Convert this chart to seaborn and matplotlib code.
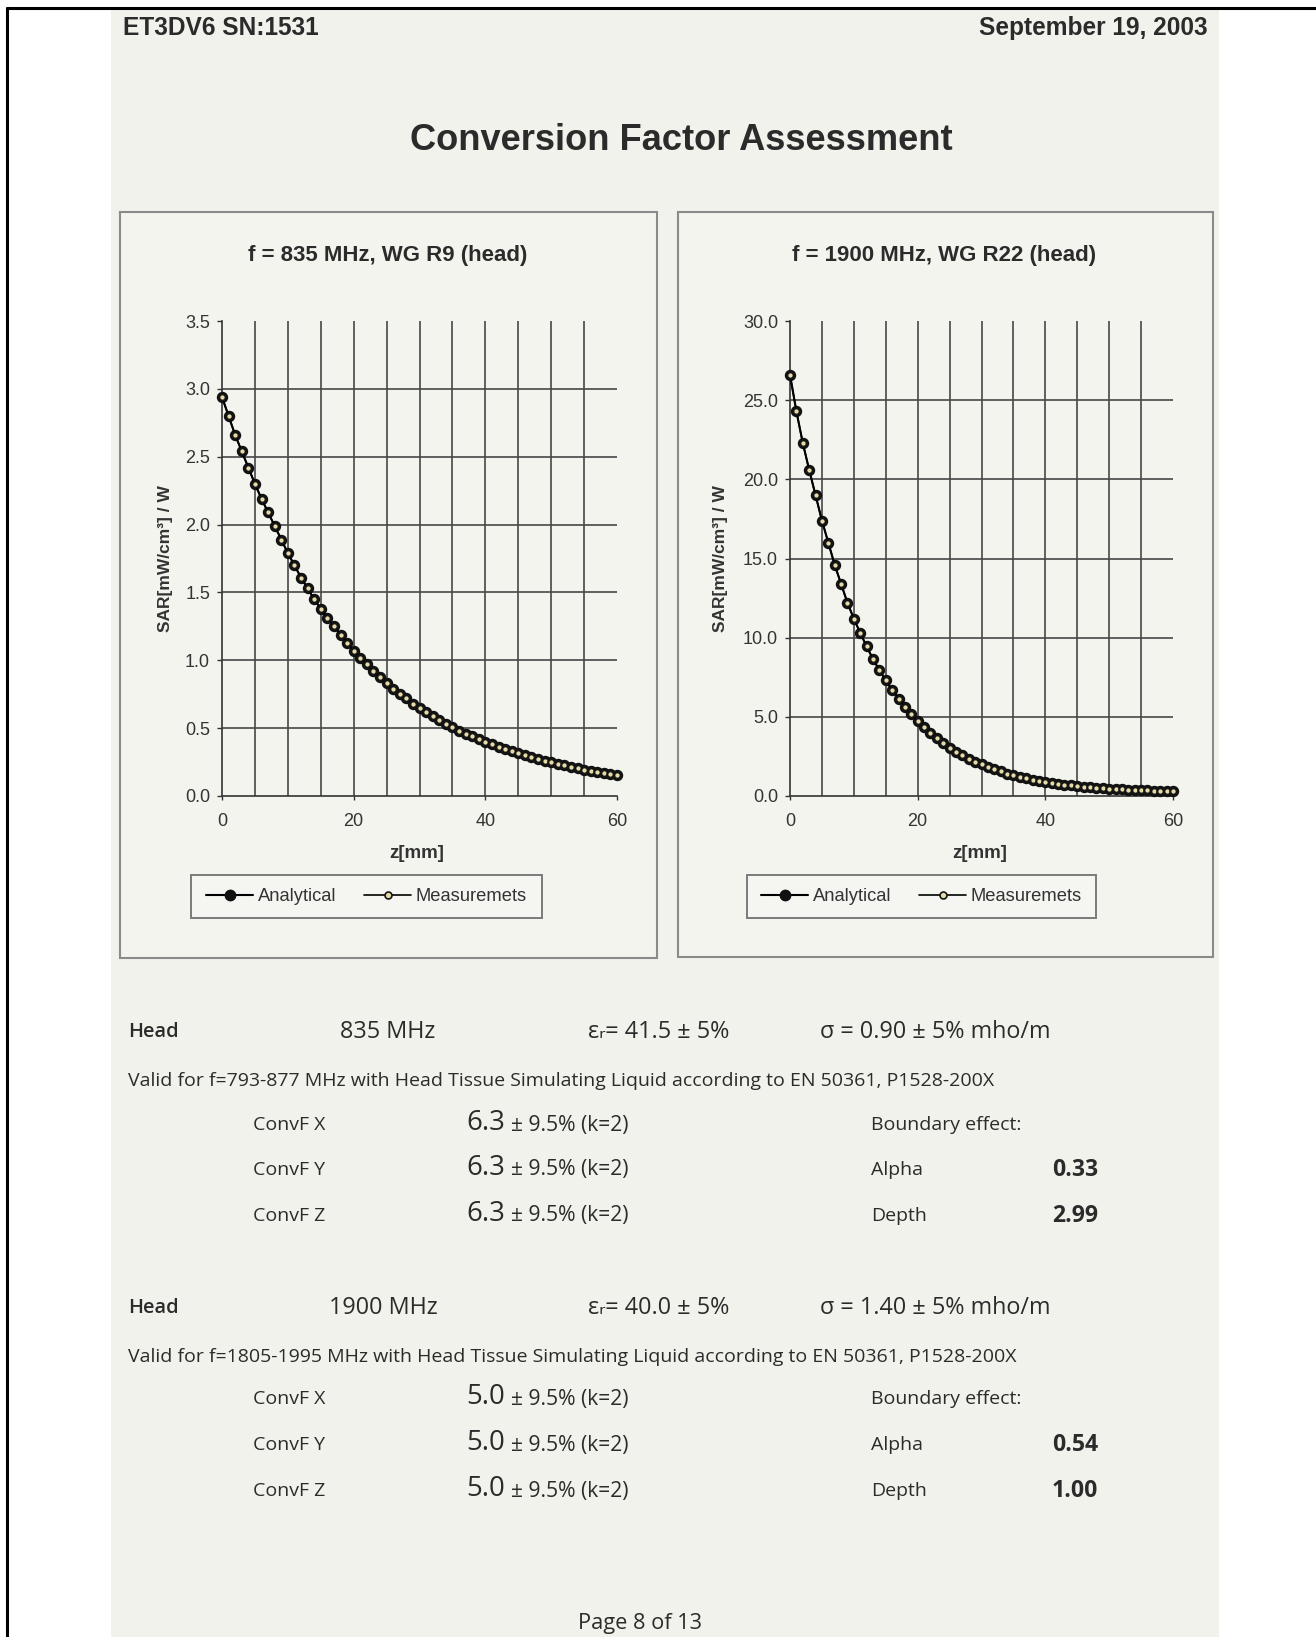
import numpy as np
import pandas as pd
import matplotlib
matplotlib.use("Agg")
import matplotlib.pyplot as plt
import seaborn as sns
from matplotlib.patches import Rectangle
from matplotlib.lines import Line2D
from matplotlib.ticker import FixedLocator, FormatStrFormatter
from matplotlib import font_manager

# ---------------- data ----------------
z_mm = [0, 1, 2, 3, 4, 5, 6, 7, 8, 9,
        10, 11, 12, 13, 14, 15, 16, 17, 18, 19,
        20, 21, 22, 23, 24, 25, 26, 27, 28, 29,
        30, 31, 32, 33, 34, 35, 36, 37, 38, 39,
        40, 41, 42, 43, 44, 45, 46, 47, 48, 49,
        50, 51, 52, 53, 54, 55, 56, 57, 58, 59,
        60]

sar_835_analytical = [2.94, 2.80, 2.66, 2.54, 2.42, 2.30, 2.19, 2.09, 1.99, 1.89,
                      1.79, 1.70, 1.61, 1.53, 1.45, 1.38, 1.31, 1.25, 1.19, 1.13,
                      1.07, 1.02, 0.97, 0.92, 0.88, 0.83, 0.79, 0.75, 0.72, 0.68,
                      0.65, 0.62, 0.59, 0.56, 0.53, 0.51, 0.48, 0.46, 0.44, 0.42,
                      0.40, 0.38, 0.36, 0.345, 0.33, 0.315, 0.30, 0.285, 0.27, 0.26,
                      0.25, 0.235, 0.225, 0.215, 0.205, 0.195, 0.185, 0.177, 0.169, 0.161,
                      0.153]
# measured points lie on top of the analytical curve
sar_835_measured = [2.94, 2.80, 2.66, 2.54, 2.42, 2.30, 2.19, 2.09, 1.99, 1.89,
                    1.79, 1.70, 1.61, 1.53, 1.45, 1.38, 1.31, 1.25, 1.19, 1.13,
                    1.07, 1.02, 0.97, 0.92, 0.88, 0.83, 0.79, 0.75, 0.72, 0.68,
                    0.65, 0.62, 0.59, 0.56, 0.53, 0.51, 0.48, 0.46, 0.44, 0.42,
                    0.40, 0.38, 0.36, 0.345, 0.33, 0.315, 0.30, 0.285, 0.27, 0.26,
                    0.25, 0.235, 0.225, 0.215, 0.205, 0.195, 0.185, 0.177, 0.169, 0.161,
                    0.153]

sar_1900_analytical = [26.6, 24.3, 22.3, 20.6, 19.0, 17.4, 16.0, 14.6, 13.4, 12.2,
                       11.2, 10.3, 9.45, 8.65, 7.95, 7.30, 6.70, 6.15, 5.65, 5.15,
                       4.72, 4.33, 3.97, 3.64, 3.33, 3.05, 2.80, 2.57, 2.36, 2.17,
                       1.99, 1.83, 1.68, 1.55, 1.42, 1.31, 1.21, 1.12, 1.03, 0.96,
                       0.89, 0.83, 0.77, 0.72, 0.67, 0.63, 0.59, 0.56, 0.53, 0.50,
                       0.47, 0.45, 0.43, 0.41, 0.39, 0.37, 0.35, 0.34, 0.32, 0.31,
                       0.30]
sar_1900_measured = [26.6, 24.3, 22.3, 20.6, 19.0, 17.4, 16.0, 14.6, 13.4, 12.2,
                     11.2, 10.3, 9.45, 8.65, 7.95, 7.30, 6.70, 6.15, 5.65, 5.15,
                     4.72, 4.33, 3.97, 3.64, 3.33, 3.05, 2.80, 2.57, 2.36, 2.17,
                     1.99, 1.83, 1.68, 1.55, 1.42, 1.31, 1.21, 1.12, 1.03, 0.96,
                     0.89, 0.83, 0.77, 0.72, 0.67, 0.63, 0.59, 0.56, 0.53, 0.50,
                     0.47, 0.45, 0.43, 0.41, 0.39, 0.37, 0.35, 0.34, 0.32, 0.31,
                     0.30]

y_ticks_835 = [0.0, 0.5, 1.0, 1.5, 2.0, 2.5, 3.0, 3.5]
y_ticks_1900 = [0.0, 5.0, 10.0, 15.0, 20.0, 25.0, 30.0]
x_ticks = [0, 20, 40, 60]

panel_titles = ["f = 835 MHz, WG R9 (head)", "f = 1900 MHz, WG R22 (head)"]
series_names = ["Analytical", "Measuremets"]

header_left = "ET3DV6 SN:1531"
header_right = "September 19, 2003"
page_title = "Conversion Factor Assessment"
footer = "Page 8 of 13"

blocks = [
    dict(tissue="Head", freq="835 MHz", eps="εᵣ= 41.5 ± 5%", sigma="σ = 0.90 ± 5% mho/m",
         valid="Valid for f=793-877 MHz with Head Tissue Simulating Liquid according to EN 50361, P1528-200X",
         convf=["6.3", "6.3", "6.3"], alpha="0.33", depth="2.99"),
    dict(tissue="Head", freq="1900 MHz", eps="εᵣ= 40.0 ± 5%", sigma="σ = 1.40 ± 5% mho/m",
         valid="Valid for f=1805-1995 MHz with Head Tissue Simulating Liquid according to EN 50361, P1528-200X",
         convf=["5.0", "5.0", "5.0"], alpha="0.54", depth="1.00"),
]
convf_labels = ["ConvF X", "ConvF Y", "ConvF Z"]
uncert = "± 9.5% (k=2)"

# ---------------- style ----------------
W, H = 1316, 1637
sns.set_theme(style="white")
names = {f.name for f in font_manager.fontManager.ttflist}
SANS = "Liberation Sans" if "Liberation Sans" in names else "DejaVu Sans"
BODY = "Open Sans" if "Open Sans" in names else SANS
plt.rcParams["font.family"] = [SANS, "DejaVu Sans"]

PAPER = "#f2f2ec"
TXT = "#2b2b2b"
GRID = "#474747"
AXTXT = "#333333"

fig = plt.figure(figsize=(W / 100, H / 100), dpi=100)
fig.patch.set_facecolor("white")
renderer = fig.canvas.get_renderer()


def fx(px):
    return px / W


def fy(py):
    return 1 - py / H


def fit_size(s, target_px, family, weight="normal", base=12):
    t = fig.text(0, 0, s, fontsize=base, family=family, fontweight=weight)
    w = t.get_window_extent(renderer).width
    t.remove()
    return base * target_px / w


def put(x, y, s, size, family, weight="normal", ha="left", color=TXT):
    return fig.text(fx(x), fy(y), s, fontsize=size, family=family, fontweight=weight,
                    ha=ha, va="center", color=color, zorder=6)


# page background and scan frame
fig.add_artist(Rectangle((fx(111), 0), fx(1219) - fx(111), fy(9), transform=fig.transFigure,
                         facecolor=PAPER, edgecolor="none", zorder=-10))
fig.add_artist(Line2D([fx(7), fx(7)], [fy(8), 0], transform=fig.transFigure, color="black", lw=2.2, zorder=8))
fig.add_artist(Line2D([fx(7), 1], [fy(8), fy(8)], transform=fig.transFigure, color="black", lw=2.2, zorder=8))

# header / title
HB = [SANS, "DejaVu Sans"]
s_head = fit_size(header_left, 196, HB, "bold")
put(123, 28, header_left, s_head, HB, "bold")
put(1208, 28, header_right, s_head, HB, "bold", ha="right")
put(681, 140, page_title, fit_size(page_title, 540, HB, "bold"), HB, "bold", ha="center")

# ---------------- charts ----------------
panels = [
    dict(box=(120, 212, 657, 958), ax=(222, 617), title_x=388, leg=(191, 875, 542, 918),
         ana=sar_835_analytical, mea=sar_835_measured, yt=y_ticks_835, ylab_x=-0.125),
    dict(box=(678, 212, 1213, 957), ax=(790, 1173), title_x=944, leg=(747, 875, 1096, 918),
         ana=sar_1900_analytical, mea=sar_1900_measured, yt=y_ticks_1900, ylab_x=-0.161),
]
AX_TOP, AX_BOT = 321, 796
s_ptitle = fit_size(panel_titles[0], 279, HB, "bold")

MEA_FACE = "#e6dba8"
for i, p in enumerate(panels):
    x0, y0, x1, y1 = p["box"]
    fig.add_artist(Rectangle((fx(x0), fy(y1)), fx(x1) - fx(x0), fy(y0) - fy(y1), transform=fig.transFigure,
                             facecolor="#f4f4ef", edgecolor="#8a8a8a", lw=1.5, zorder=-5))
    put(p["title_x"], 255, panel_titles[i], s_ptitle, HB, "bold", ha="center")

    a0, a1 = p["ax"]
    ax = fig.add_axes([fx(a0), fy(AX_BOT), (a1 - a0) / W, (AX_BOT - AX_TOP) / H])
    ax.set_facecolor("none")
    df = pd.DataFrame({"z": z_mm, "Analytical": p["ana"], "Measuremets": p["mea"]})
    sns.lineplot(data=df, x="z", y="Analytical", ax=ax, color="black", linewidth=1.5,
                 marker="o", markersize=7.2, markerfacecolor="#111111",
                 markeredgecolor="#111111", markeredgewidth=1.0, clip_on=False, zorder=3)
    sns.lineplot(data=df, x="z", y="Measuremets", ax=ax, color="black", linewidth=1.2,
                 marker="o", markersize=4.6, markerfacecolor=MEA_FACE,
                 markeredgecolor="#151515", markeredgewidth=1.5, clip_on=False, zorder=4)

    ax.set_xlim(0, 60)
    ax.set_ylim(p["yt"][0], p["yt"][-1])
    ax.xaxis.set_major_locator(FixedLocator(x_ticks))
    ax.yaxis.set_major_locator(FixedLocator(p["yt"]))
    ax.xaxis.set_minor_locator(FixedLocator(np.arange(5, 60, 5)))
    ystep = p["yt"][1] - p["yt"][0]
    ax.yaxis.set_minor_locator(FixedLocator(np.arange(ystep, p["yt"][-1] - ystep / 2, ystep)))
    ax.xaxis.remove_overlapping_locs = False
    ax.yaxis.remove_overlapping_locs = False
    ax.yaxis.set_major_formatter(FormatStrFormatter("%.1f"))
    ax.xaxis.set_major_formatter(FormatStrFormatter("%d"))
    ax.grid(False)
    ax.grid(which="minor", color=GRID, lw=1.2)
    ax.set_axisbelow(True)
    for s in ["top", "right"]:
        ax.spines[s].set_visible(False)
    for s in ["left", "bottom"]:
        ax.spines[s].set_color(AXTXT)
        ax.spines[s].set_linewidth(1.2)
    ax.tick_params(which="major", left=True, bottom=True, direction="out", color=AXTXT,
                   labelcolor=AXTXT, labelsize=13, width=1.0)
    ax.tick_params(axis="y", which="major", length=3.6, pad=5)
    ax.tick_params(axis="x", which="major", length=3, pad=9)
    ax.tick_params(which="minor", length=0)
    for lab in ax.get_xticklabels() + ax.get_yticklabels():
        lab.set_family(SANS)

    ax.set_xlabel("z[mm]", fontsize=13.5, fontweight="bold", color=AXTXT)
    ax.xaxis.set_label_coords(0.494, -0.104)
    ax.set_ylabel("SAR[mW/cm³] / W", fontsize=12.5, fontweight="bold", color=AXTXT)
    ax.yaxis.set_label_coords(p["ylab_x"], 0.5)

    # legend
    l0, t0, l1, b1 = p["leg"]
    fig.add_artist(Rectangle((fx(l0), fy(b1)), fx(l1) - fx(l0), fy(t0) - fy(b1), transform=fig.transFigure,
                             facecolor="#f5f5f1", edgecolor="#7a7a7a", lw=1.4, zorder=-4))
    handles = [Line2D([], [], color="black", lw=1.5, marker="o", markersize=7.5,
                      markerfacecolor="#111111", markeredgecolor="#111111"),
               Line2D([], [], color="black", lw=1.2, marker="o", markersize=5,
                      markerfacecolor=MEA_FACE, markeredgecolor="#151515", markeredgewidth=1.2)]
    fig.legend(handles, series_names, loc="center",
               bbox_to_anchor=(fx((l0 + l1) / 2), fy((t0 + b1) / 2)),
               ncol=2, frameon=False, fontsize=13.2, handlelength=2.55,
               handletextpad=0.25, columnspacing=1.55, labelcolor=AXTXT)

# ---------------- text block ----------------
BF = [BODY, "DejaVu Sans"]
s_body = fit_size(blocks[0]["valid"], 861, BF)
s_row = fit_size(blocks[0]["sigma"], 231, BF)
s_big = fit_size("6.3", 39, BF)
s_small = fit_size(uncert, 124, BF) * 0.95
s_bold = fit_size("0.33", 46, BF, "bold")
s_foot = fit_size(footer, 124, BF)

rows = [(1032, 1081, [1125, 1170, 1216]), (1308, 1357, [1399, 1445, 1491])]
for b, (yh, yv, yc) in zip(blocks, rows):
    put(128, yh, b["tissue"], s_body * 1.03, BF, "semibold")
    put(340 if b["freq"].startswith("835") else 329, yh, b["freq"], s_row, BF)
    put(588, yh, b["eps"], s_row, BF)
    put(820, yh, b["sigma"], s_row, BF)
    put(128, yv, b["valid"], s_body, BF)
    for lab, val, yy in zip(convf_labels, b["convf"], yc):
        put(253, yy, lab, s_body, BF)
        put(466, yy - 2, val, s_big, BF)
        put(511, yy, uncert, s_small, BF)
    put(871, yc[0], "Boundary effect:", s_body, BF)
    put(871, yc[1], "Alpha", s_body, BF)
    put(871, yc[2], "Depth", s_body, BF)
    put(1052, yc[1], b["alpha"], s_bold, BF, "bold")
    put(1052, yc[2], b["depth"], s_bold, BF, "bold")

put(640, 1624, footer, s_foot, BF, ha="center")

fig.savefig("out.png", dpi=100, facecolor=fig.get_facecolor())
